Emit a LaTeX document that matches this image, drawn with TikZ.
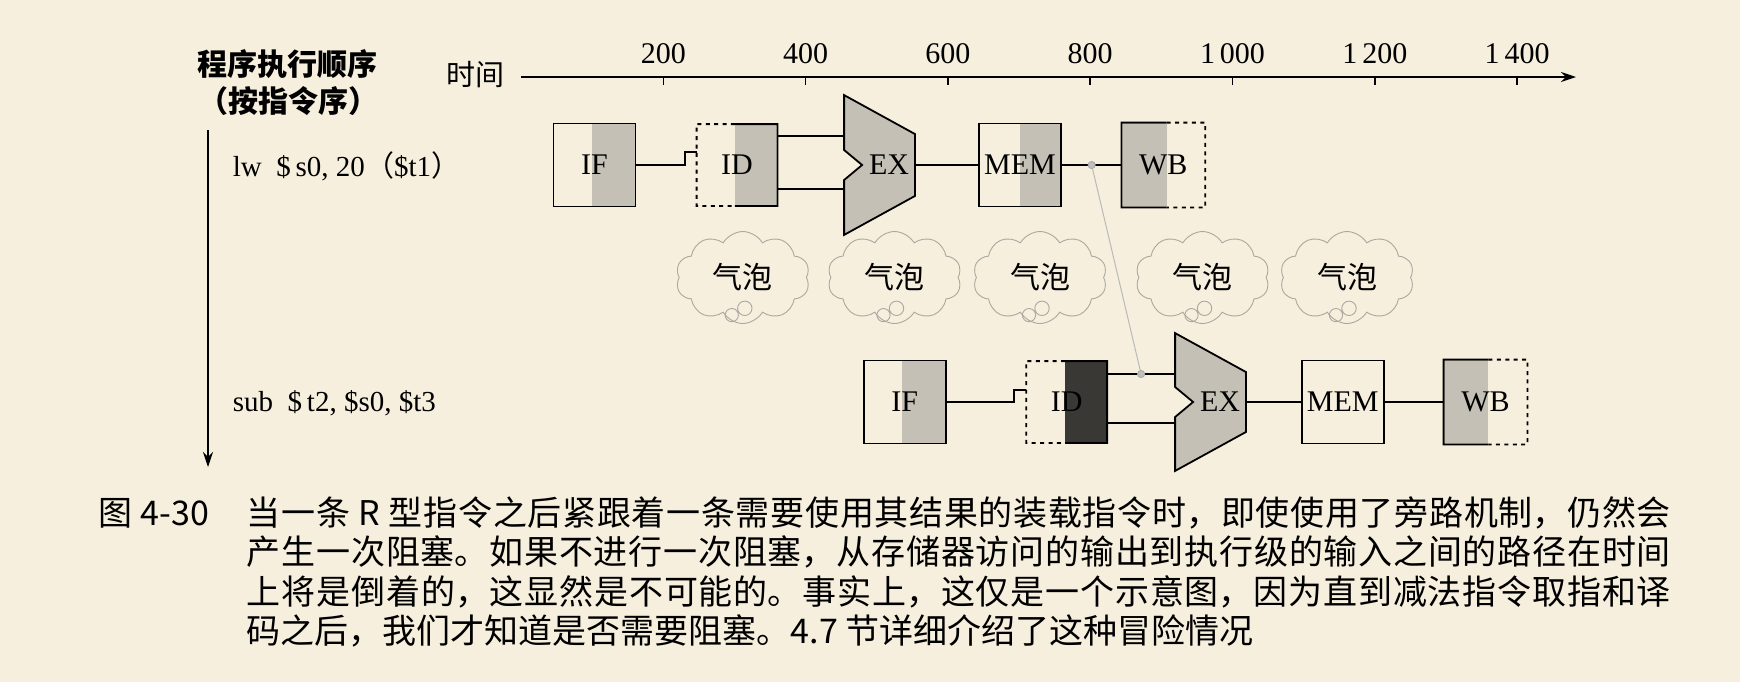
\documentclass[tikz,border=0pt]{standalone}
\usepackage{fontspec}
\setmainfont{Liberation Serif}
\newfontfamily\cjk{Noto Sans CJK SC}
\usetikzlibrary{arrows.meta,calc,positioning,shapes.symbols}
\definecolor{paper}{RGB}{246,239,222}
\definecolor{stipple}{RGB}{196,192,181}
\definecolor{darkid}{RGB}{58,56,53}
\definecolor{puff}{RGB}{170,168,160}
\XeTeXlinebreaklocale "zh"
\XeTeXlinebreakskip=0pt plus 1.5pt

\begin{document}
\begin{tikzpicture}[x=0.5pt,y=-0.5pt,line width=0.9pt,
    stage/.style={rectangle,minimum width=41pt,minimum height=41.5pt,inner sep=0pt,font=\fontsize{15}{15}\selectfont},
    rshade/.style 2 args={path picture={\fill[#1] ($(path picture bounding box.south west)!#2!(path picture bounding box.south east)$) rectangle (path picture bounding box.north east);}},
    lshade/.style 2 args={path picture={\fill[#1] (path picture bounding box.south west) rectangle ($(path picture bounding box.north west)!#2!(path picture bounding box.north east)$);}},
    dashedge/.style={dash pattern=on 2pt off 2.2pt},
    alu/.style={fill=stipple,draw=black,line join=miter},
    dot/.style={circle,fill=gray!50,draw=gray!70,line width=0.4pt,inner sep=0pt,minimum size=3.6pt},
    fwd/.style={draw=gray!55,line width=0.5pt},
    bubble/.style={cloud,cloud puffs=10,cloud puff arc=120,aspect=1.45,draw=puff,line width=0.45pt,inner sep=0pt,minimum width=67pt,minimum height=46pt,font=\cjk\fontsize{15}{15}\selectfont},
    puffline/.style={draw=puff,line width=0.45pt},
    lab/.style={font=\fontsize{15}{15}\selectfont,inner sep=0pt},
    instr/.style={anchor=west,inner sep=0pt,font=\fontsize{14.5}{14.5}\selectfont},
    head/.style={inner sep=0pt,font=\cjk\bfseries\fontsize{15}{15}\selectfont},
    capt/.style={anchor=base west,inner sep=0pt,font=\cjk\fontsize{17}{19.75}\selectfont},
    >={Stealth[length=7.5pt,width=5pt]}]
  \fill[paper] (0,0) rectangle (1740,682);

  \coordinate (t0) at (521,77);
  \coordinate (tend) at (1576,77);
  \draw[->] (t0) -- (tend);
  \foreach \t/\lab in {200/200,400/400,600/600,800/800,1000/1\thinspace000,1200/1\thinspace200,1400/1\thinspace400} {
    \draw[line width=0.8pt] ($(t0)+(\t*0.7115,0)$) coordinate (tk\t) -- ++(0,8);
    \node[lab] (tl\t) at ($(tk\t)+(0,-23)$) {\lab};
  }
  \node[head,font=\cjk\fontsize{14.5}{14.5}\selectfont] (time) at (475,75) {时间};

  \node[head] (order) at (287,64) {程序执行顺序};
  \node[head] (order2) at (288,101) {（按指令序）};
  \coordinate (otop) at (208,130);
  \coordinate (obot) at (208,467);
  \draw[->] (otop) -- (obot);
  \node[instr] (lw) at (232,166) {lw \ \$\,s0, 20{\cjk（}\$t1{\cjk）}};
  \node[instr] (sub) at (232,403) {sub \ \$\,t2, \$s0, \$t3};

  \node[stage,draw,rshade={stipple}{0.465}] (if1) at (594.5,165) {IF};
  \node[stage,minimum width=39.5pt,minimum height=40pt,rshade={stipple}{0.475}] (id1) at (737,165) {ID};
  \draw[dashedge] ($(id1.north west)!0.475!(id1.north east)$) -- (id1.north west) -- (id1.south west) -- ($(id1.south west)!0.475!(id1.south east)$);
  \draw ($(id1.north west)!0.475!(id1.north east)$) -- (id1.north east) -- (id1.south east) -- ($(id1.south west)!0.475!(id1.south east)$);
  \node[stage,minimum width=34.5pt,minimum height=69pt] (ex1) at (879.5,165) {};
  \filldraw[alu] (ex1.north west) -- ([yshift=15.5pt]ex1.east) -- ([yshift=-15.5pt]ex1.east) -- (ex1.south west) -- ([yshift=-7.5pt]ex1.west) -- ([xshift=9pt]ex1.west) -- ([yshift=7.5pt]ex1.west) -- cycle;
  \node[lab] (ex1t) at ([xshift=4.75pt]ex1.center) {EX};
  \node[stage,draw,rshade={stipple}{0.5}] (mem1) at (1020,165) {MEM};
  \node[stage,lshade={stipple}{0.54}] (wb1) at (1163.3,165) {WB};
  \draw ($(wb1.north west)!0.54!(wb1.north east)$) -- (wb1.north west) -- (wb1.south west) -- ($(wb1.south west)!0.54!(wb1.south east)$);
  \draw[dashedge] ($(wb1.north west)!0.54!(wb1.north east)$) -- (wb1.north east) -- (wb1.south east) -- ($(wb1.south west)!0.54!(wb1.south east)$);

  \draw (if1.east) -- ([xshift=-6pt]id1.west) |- ([yshift=6.5pt]id1.west);
  \draw ([yshift=14.5pt]id1.east) coordinate (u1) -- (u1 -| ex1.west);
  \draw ([yshift=-12pt]id1.east) coordinate (l1) -- (l1 -| ex1.west);
  \draw (ex1.east) -- (mem1.west);
  \draw (mem1.east) -- (wb1.west);

  \foreach \cx [count=\k] in {742.8,894.5,1040,1202.5,1347} {
    \node[bubble] (b\k) at (\cx,277.5) {气泡};
    \draw[puffline] ([shift={(-5.5pt,-18.8pt)}]b\k.center) circle (3.3pt) ([shift={(1pt,-15.4pt)}]b\k.center) circle (3.6pt);
  }

  \node[stage,draw,rshade={stipple}{0.465}] (if2) at (904.7,402) {IF};
  \node[stage,minimum width=39.5pt,minimum height=40pt,rshade={darkid}{0.48}] (id2) at (1066.7,402) {ID};
  \draw[dashedge] ($(id2.north west)!0.48!(id2.north east)$) -- (id2.north west) -- (id2.south west) -- ($(id2.south west)!0.48!(id2.south east)$);
  \draw ($(id2.north west)!0.48!(id2.north east)$) -- (id2.north east) -- (id2.south east) -- ($(id2.south west)!0.48!(id2.south east)$);
  \node[stage,minimum width=34.5pt,minimum height=68pt] (ex2) at (1210.5,402) {};
  \filldraw[alu] (ex2.north west) -- ([yshift=15pt]ex2.east) -- ([yshift=-15pt]ex2.east) -- (ex2.south west) -- ([yshift=-7.5pt]ex2.west) -- ([xshift=9pt]ex2.west) -- ([yshift=7.5pt]ex2.west) -- cycle;
  \node[lab] (ex2t) at ([xshift=4.75pt]ex2.center) {EX};
  \node[stage,draw] (mem2) at (1342.8,402) {MEM};
  \node[stage,lshade={stipple}{0.535}] (wb2) at (1485.5,402) {WB};
  \draw ($(wb2.north west)!0.535!(wb2.north east)$) -- (wb2.north west) -- (wb2.south west) -- ($(wb2.south west)!0.535!(wb2.south east)$);
  \draw[dashedge] ($(wb2.north west)!0.535!(wb2.north east)$) -- (wb2.north east) -- (wb2.south east) -- ($(wb2.south west)!0.535!(wb2.south east)$);

  \draw (if2.east) -- ([xshift=-6pt]id2.west) |- ([yshift=6pt]id2.west);
  \draw ([yshift=14pt]id2.east) coordinate (u2) -- (u2 -| ex2.west);
  \draw ([yshift=-10.5pt]id2.east) coordinate (l2) -- (l2 -| ex2.west);
  \draw (ex2.east) -- (mem2.west);
  \draw (mem2.east) -- (wb2.west);

  \node[dot] (d1) at ($(mem1.east)!0.5!(wb1.west)$) {};
  \node[dot] (d2) at ($(u2)!0.5!(u2 -| ex2.west)$) {};
  \draw[fwd] (d1) -- (d2);

  \node[capt] (fig) at (98,525) {图 4-30};
  \node[capt,text width=712pt,align=justify] (cap) at (246,525) {当一条 R 型指令之后紧跟着一条需要使用其结果的装载指令时，即使使用了旁路机制，仍然会\linebreak
    产生一次阻塞。如果不进行一次阻塞，从存储器访问的输出到执行级的输入之间的路径在时间\linebreak
    上将是倒着的，这显然是不可能的。事实上，这仅是一个示意图，因为直到减法指令取指和译\linebreak
    码之后，我们才知道是否需要阻塞。4.7 节详细介绍了这种冒险情况};
\end{tikzpicture}
\end{document}
